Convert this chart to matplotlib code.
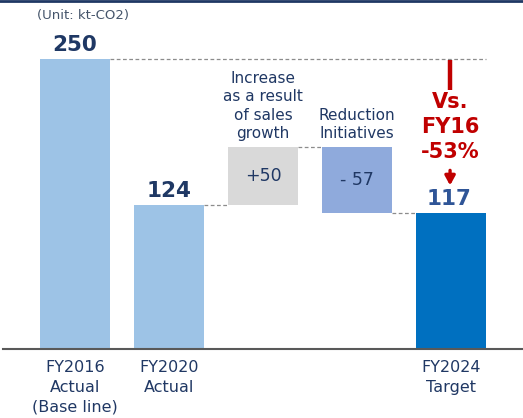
import matplotlib
matplotlib.use("Agg")
import matplotlib.pyplot as plt
from matplotlib.lines import Line2D

# ---- data ----
categories = ["FY2016\nActual\n(Base line)", "FY2020\nActual", "", "", "FY2024\nTarget"]
step_labels = ["", "", "Increase\nas a result\nof sales\ngrowth", "Reduction\nInitiatives", ""]
base_2016 = 250
actual_2020 = 124
sales_growth = 50
reduction = -57
target_2024 = 117
unit_text = "(Unit: kt-CO2)"
vs_text = "Vs.\nFY16\n-53%"

W, H = 523, 418
fig = plt.figure(figsize=(W / 100, H / 100), dpi=100)
fig.patch.set_facecolor("white")

base_px = 349
px_per_unit = 1.16
ax = fig.add_axes([0, (H - base_px) / H, 1, base_px / H])
ax.set_ylim(0, base_px / px_per_unit)
x0_px, step_px = 75, 94
ax.set_xlim(-x0_px / step_px, (W - x0_px) / step_px)
ax.axis("off")


def py2y(py):
    """pixel row (from top of image) -> data y"""
    return (base_px - py) / px_per_unit


bw = 70 / step_px
c_light = "#9DC3E6"
c_gray = "#D9D9D9"
c_mid = "#8FAADC"
c_dark = "#0070C0"
navy = "#1F3864"
txt = "#203864"

mid_top = actual_2020 + sales_growth
bottoms = [0, 0, actual_2020, mid_top + reduction, 0]
heights = [base_2016, actual_2020, sales_growth, -reduction, target_2024]
colors = [c_light, c_light, c_gray, c_mid, c_dark]
xs = list(range(5))
ax.bar(xs, heights, bottom=bottoms, width=bw, color=colors, linewidth=0, zorder=2)

# connectors
dash = dict(color="#8C8C8C", linestyle=(0, (3, 2)), linewidth=0.9, zorder=1)
ax.plot([0 + bw / 2, 4 + bw / 2], [base_2016, base_2016], **dash)
ax.plot([1 + bw / 2, 2 - bw / 2], [actual_2020, actual_2020], **dash)
ax.plot([2 + bw / 2, 3 - bw / 2], [mid_top, mid_top], **dash)
ax.plot([3 + bw / 2, 4 - bw / 2], [target_2024, target_2024], **dash)

# baseline
ax.plot([-x0_px / step_px + 3 / step_px, (W - x0_px) / step_px], [0, 0],
        color="#595959", linewidth=1.5, zorder=3, clip_on=False)

# value labels
ax.text(0, base_2016 + 12, f"{base_2016}", ha="center", va="center",
        fontsize=15.5, fontweight="bold", color=navy)
ax.text(1, actual_2020 + 12, f"{actual_2020}", ha="center", va="center",
        fontsize=15.5, fontweight="bold", color=navy)
ax.text(2, actual_2020 + sales_growth / 2, f"+{sales_growth}", ha="center", va="center",
        fontsize=12.5, color=txt)
ax.text(3, mid_top + reduction / 2, f"- {-reduction}", ha="center", va="center",
        fontsize=12.5, color=txt)
ax.text(4 - 0.02, target_2024 + 12, f"{target_2024}", ha="center", va="center",
        fontsize=15.5, fontweight="bold", color="#2F5597")

# step descriptions
for i, lab in enumerate(step_labels):
    if lab:
        ax.text(i, mid_top + 5, lab, ha="center", va="bottom", fontsize=11,
                color=txt, linespacing=1.3)

# category labels
for i, lab in enumerate(categories):
    if lab:
        ax.text(i, -9.5, lab, ha="center", va="top", fontsize=11.5, color=txt,
                linespacing=1.4)

# red annotation
red = "#C00000"
xr = 4 - 0.01
ax.plot([xr, xr], [py2y(60), py2y(90)], color=red, linewidth=3.2,
        solid_capstyle="butt", zorder=4)
ax.text(xr, py2y(127), vs_text, ha="center", va="center", fontsize=15,
        fontweight="bold", color=red, linespacing=1.3)
ax.annotate("", xy=(xr, target_2024 + 24), xytext=(xr, target_2024 + 37),
            arrowprops=dict(arrowstyle="-|>,head_width=0.3,head_length=0.55",
                            color=red, lw=2.4, shrinkA=0, shrinkB=0))

# unit
fig.text(37 / W, 1 - 15 / H, unit_text, ha="left", va="center", fontsize=9.5,
         color="#44546A")

# top border line
fig.add_artist(Line2D([0, 1], [1 - 1 / H, 1 - 1 / H], color=navy, linewidth=2,
                      transform=fig.transFigure))

fig.savefig("out.png", dpi=100, facecolor="white")
